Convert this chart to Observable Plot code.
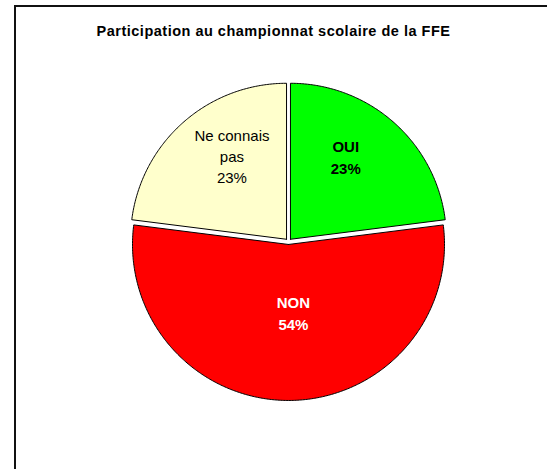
<!DOCTYPE html>
<html>
<head>
<meta charset="utf-8">
<script src="https://cdn.jsdelivr.net/npm/d3@7"></script>
<script src="https://cdn.jsdelivr.net/npm/@observablehq/plot@0.6"></script>
<style>
  html, body { margin: 0; padding: 0; background: #fff; overflow: hidden; }
  body { width: 547px; height: 469px; position: relative; font-family: "Liberation Sans", Arial, sans-serif; }
  #frame { position: absolute; left: 14px; top: 5px; width: 560px; height: 520px; border-left: 2px solid #111; border-top: 2px solid #111; box-sizing: border-box; }
  #title { position: absolute; left: 0; top: 22px; width: 547px; text-align: center; font-weight: bold; font-size: 14.5px; letter-spacing: 0.5px; line-height: 18px; color: #000; }
  #chart { position: absolute; left: 0; top: 50px; }
</style>
</head>
<body>
<div id="frame"></div>
<div id="title">Participation au championnat scolaire de la FFE</div>
<div id="chart"></div>
<script>
// Data
const categories = ["OUI", "NON", "Ne connais pas"];
const values = [23, 54, 23];
const labels = ["OUI\n23%", "NON\n54%", "Ne connais\npas\n23%"];
const colors = ["#00FF00", "#FF0000", "#FFFFCC"];
const textColors = ["#000000", "#FFFFFF", "#000000"];
const textWeights = ["bold", "bold", "normal"];

// Label placement (fraction of radius, angle shift in degrees) per slice
const labelLayout = {
  "OUI": {r: 0.66, shift: -7.6},
  "NON": {r: 0.455, shift: -4},
  "Ne connais pas": {r: 0.662, shift: 8.2}
};

// Pie geometry (clockwise from 12 o'clock)
const explode = 0.019;
const arcs = d3.pie().sort(null).value(d => d)(values);

const polys = [];
const labelPts = [];
arcs.forEach((a, i) => {
  const mid = (a.startAngle + a.endAngle) / 2;
  const ox = explode * Math.sin(mid), oy = explode * Math.cos(mid);
  const pts = [{x: ox, y: oy}];
  const n = Math.max(8, Math.ceil((a.endAngle - a.startAngle) / 0.01));
  for (let k = 0; k <= n; k++) {
    const t = a.startAngle + (a.endAngle - a.startAngle) * k / n;
    pts.push({x: ox + Math.sin(t), y: oy + Math.cos(t)});
  }
  pts.push({x: ox, y: oy});
  pts.forEach(p => polys.push({...p, name: categories[i]}));
  const L = labelLayout[categories[i]];
  const la = mid + L.shift * Math.PI / 180;
  labelPts.push({
    x: L.r * Math.sin(la),
    y: L.r * Math.cos(la),
    label: labels[i], color: textColors[i], weight: textWeights[i], name: categories[i]
  });
});

const r = 156, cx = 288, cy = 191;
const chart = Plot.plot({
  width: 547,
  height: 419,
  margin: 0,
  x: {domain: [-1, 1], range: [cx - r, cx + r], axis: null},
  y: {domain: [-1, 1], range: [cy + r, cy - r], axis: null},
  color: {domain: categories, range: colors},
  marks: [
    Plot.line(polys, {x: "x", y: "y", z: "name", fill: "name", stroke: "#000", strokeWidth: 1, curve: "linear"}),
    ...labelPts.map(d => Plot.text([d], {
      x: "x", y: "y", text: "label", fill: d.color, fontWeight: d.weight,
      fontSize: 15, lineHeight: 1.43, fontFamily: "Liberation Sans, Arial, sans-serif"
    }))
  ]
});
document.getElementById("chart").appendChild(chart);
</script>
</body>
</html>
